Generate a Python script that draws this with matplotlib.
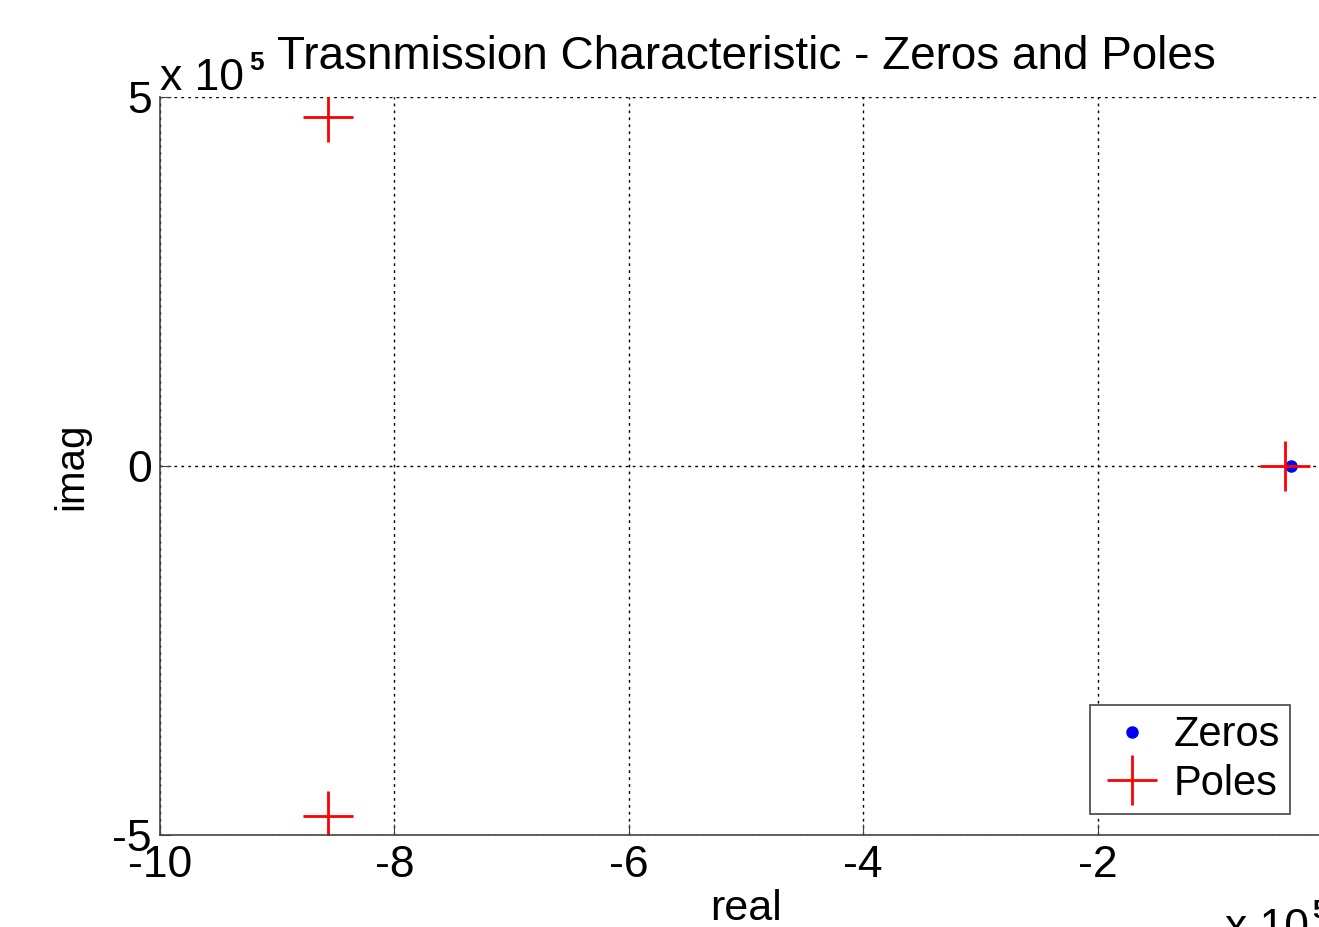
import numpy as np
import matplotlib
matplotlib.use("Agg")
import matplotlib.pyplot as plt

# pole/zero locations, in units of 1e5
zeros_re = [-0.35]
zeros_im = [0.0]
poles_re = [-8.57, -8.57, -0.40]
poles_im = [4.73, -4.74, 0.0]

xticks = [-10, -8, -6, -4, -2, 0]
yticks = [-5, 0, 5]

plt.rcParams['font.family'] = ['Liberation Sans', 'DejaVu Sans']
plt.rcParams['axes.unicode_minus'] = False

fig = plt.figure(figsize=(13.19, 9.27), dpi=100)
ax = fig.add_axes([160/1319, 1 - 835/927, 1172/1319, 738/927])

ax.plot(zeros_re, zeros_im, 'o', color='blue', markersize=8, label='Zeros')
ax.plot(poles_re, poles_im, '+', color='red', markersize=36, markeredgewidth=2, label='Poles')

ax.set_xlim(-10, 0)
ax.set_ylim(-5, 5)
ax.set_xticks(xticks)
ax.set_yticks(yticks)
ax.grid(True, color='black', linestyle=(0, (2, 3)), linewidth=1)
ax.spines['top'].set_visible(False)
ax.spines['right'].set_visible(False)
for s in ['left', 'bottom']:
    ax.spines[s].set_color('#444444')
    ax.spines[s].set_linewidth(1.2)
ax.tick_params(direction='in', length=8, labelsize=32, colors='#444444',
               labelcolor='black')
ax.tick_params(axis='x', pad=7)
ax.tick_params(axis='y', pad=6)

ax.set_title('Trasnmission Characteristic - Zeros and Poles', fontsize=33, pad=20)
ax.set_xlabel('real', fontsize=31, labelpad=2)
ax.set_ylabel('imag', fontsize=29, labelpad=16)

# MATLAB-style exponent labels
fig.text(160/1319, 1 - 90/927, 'x 10', fontsize=32, ha='left', va='baseline')
fig.text(249/1319, 1 - 70/927, '5', fontsize=19, fontweight='bold', ha='left', va='baseline')
fig.text(1225/1319, 1 - 940/927, 'x 10', fontsize=32, ha='left', va='baseline')
fig.text(1312/1319, 1 - 918/927, '5', fontsize=19, fontweight='bold', ha='left', va='baseline')

leg = ax.legend(loc='lower right', bbox_to_anchor=(1290/1319, 1 - 814/927),
                bbox_transform=fig.transFigure, fontsize=30, fancybox=False,
                framealpha=1, edgecolor='#444444', handlelength=1.5,
                handletextpad=0.25, borderpad=0.25, labelspacing=0.2,
                borderaxespad=0)
leg.get_frame().set_linewidth(1.2)

fig.savefig('out.png', dpi=100)
